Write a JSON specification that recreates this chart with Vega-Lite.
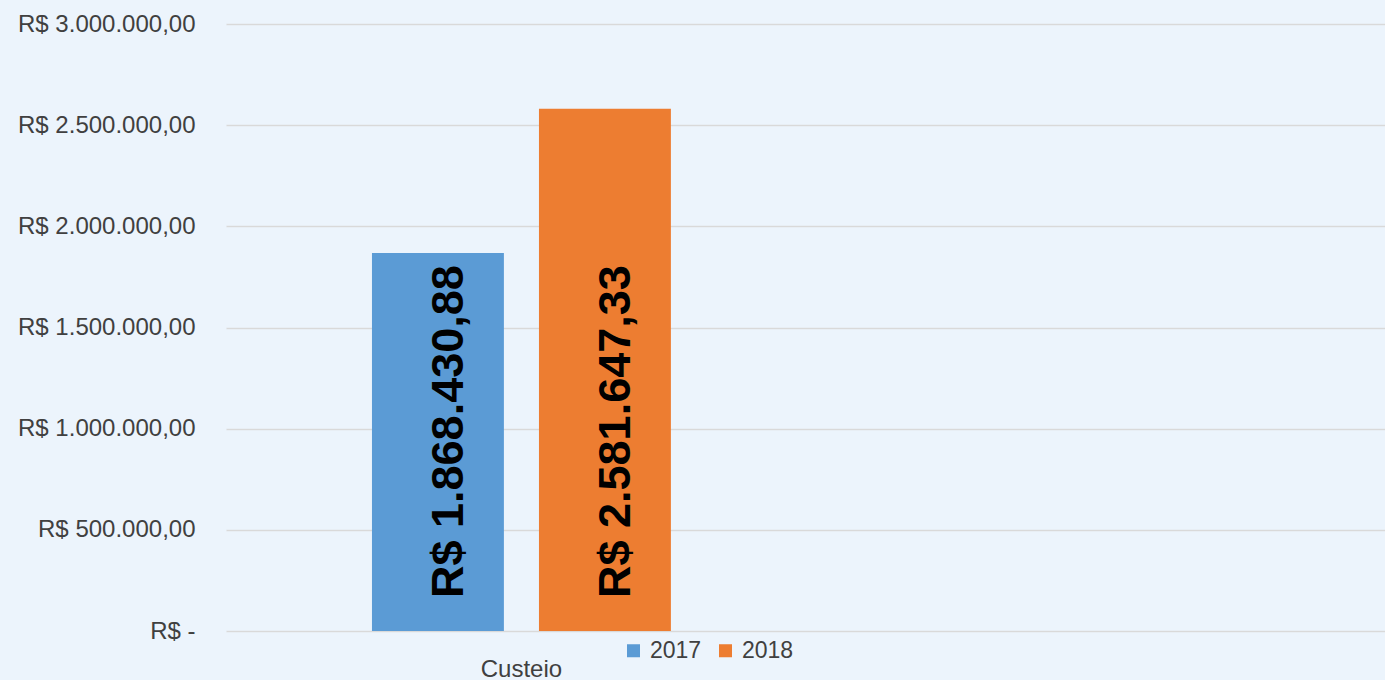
{
  "$schema": "https://vega.github.io/schema/vega-lite/v6.json",
  "width": 1159,
  "height": 607,
  "autosize": {"type": "none"},
  "padding": {"left": 226, "top": 24, "right": 0, "bottom": 49},
  "background": "#ecf4fc",
  "config": {
    "view": {"stroke": null},
    "font": "Liberation Sans",
    "locale": {
      "number": {"decimal": ",", "thousands": ".", "grouping": [3], "currency": ["R$ ", ""]}
    }
  },
  "data": {
    "values": [
      {"categoria": "Custeio", "ano": "2017", "valor": 1868430.88, "rotulo": "R$ 1.868.430,88"},
      {"categoria": "Custeio", "ano": "2018", "valor": 2581647.33, "rotulo": "R$ 2.581.647,33"}
    ]
  },
  "encoding": {
    "x": {
      "field": "categoria",
      "type": "nominal",
      "scale": {"domain": ["Custeio", " "], "paddingInner": 0, "paddingOuter": 0.02},
      "axis": {
        "title": null,
        "labelAngle": 0,
        "labelFontSize": 24,
        "labelColor": "#404040",
        "labelPadding": 26,
        "ticks": false,
        "domain": false,
        "grid": false
      }
    },
    "xOffset": {
      "field": "ano",
      "type": "nominal",
      "scale": {"paddingInner": 0.21, "paddingOuter": 0.806}
    },
    "y": {
      "field": "valor",
      "type": "quantitative",
      "scale": {"domain": [0, 3000000], "nice": false},
      "axis": {
        "title": null,
        "values": [0, 500000, 1000000, 1500000, 2000000, 2500000, 3000000],
        "format": "$,.2f",
        "labelExpr": "datum.value == 0 ? 'R$ -\u00a0\u00a0' : datum.label",
        "labelFontSize": 24,
        "labelLimit": 400,
        "labelColor": "#404040",
        "labelPadding": 31,
        "ticks": false,
        "domain": false,
        "grid": true,
        "gridColor": "#d9d9d9",
        "gridWidth": 1.5
      }
    }
  },
  "layer": [
    {
      "mark": {"type": "bar"},
      "encoding": {
        "color": {
          "field": "ano",
          "type": "nominal",
          "scale": {"domain": ["2017", "2018"], "range": ["#5b9bd5", "#ed7d31"]},
          "legend": {
            "title": null,
            "orient": "none",
            "legendX": 396,
            "legendY": 615,
            "direction": "horizontal",
            "symbolType": "square",
            "symbolSize": 169,
            "symbolStrokeWidth": 0,
            "labelFontSize": 23,
            "labelColor": "#404040",
            "labelOffset": 5,
            "columnPadding": 12
          }
        }
      }
    },
    {
      "mark": {
        "type": "text",
        "angle": 270,
        "align": "left",
        "baseline": "alphabetic",
        "dx": 33,
        "dy": 25,
        "fontSize": 45,
        "fontWeight": "bold",
        "color": "#000000"
      },
      "encoding": {
        "y": {"datum": 0},
        "text": {"field": "rotulo"}
      }
    }
  ]
}
